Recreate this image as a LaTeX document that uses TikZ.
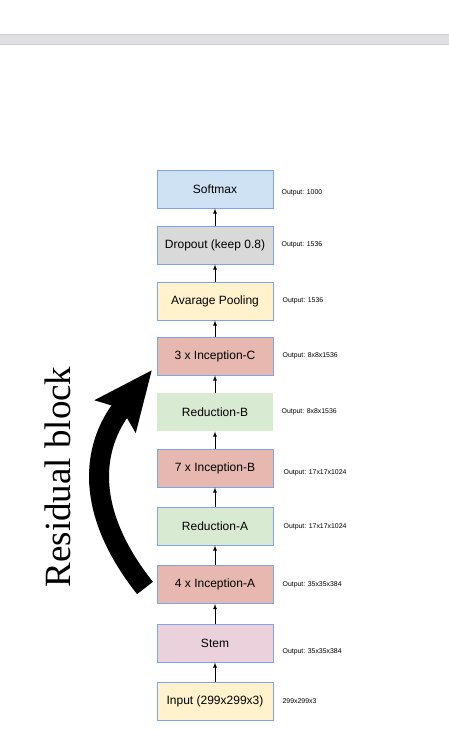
\documentclass[tikz,border=0pt]{standalone}
\usepackage{fontspec}
\setmainfont{Liberation Sans}
\newfontfamily\resfont{Liberation Serif}
\usetikzlibrary{arrows, arrows.meta, positioning}

\definecolor{barfill}{RGB}{224,224,226}
\definecolor{baredge}{RGB}{206,206,208}
\definecolor{boxline}{RGB}{125,165,232}
\definecolor{softblue}{RGB}{207,226,243}
\definecolor{softgray}{RGB}{217,217,217}
\definecolor{softyellow}{RGB}{255,242,204}
\definecolor{softred}{RGB}{230,184,175}
\definecolor{softgreen}{RGB}{217,234,211}
\definecolor{softpink}{RGB}{234,209,220}

\tikzset{
  layer/.style={draw=boxline, line width=0.9pt, minimum width=116pt,
    minimum height=38pt, inner sep=0pt, font=\fontsize{12}{14}\selectfont},
  outlabel/.style={inner sep=0pt, anchor=west, font=\fontsize{6.9}{8}\selectfont},
  flow/.style={->, line width=0.8pt}
}

\begin{document}
\begin{tikzpicture}[>=latex, x=1pt, y=-1pt]
    \useasboundingbox (0,0) rectangle (449,730);

    % top bar
    \fill[barfill] (0,34) rectangle (449,45);
    \draw[baredge, line width=0.8pt] (0,34.4) -- (449,34.4);
    \draw[baredge, line width=0.8pt] (0,44.6) -- (449,44.6);

    \node[layer, fill=softblue] (softmax) at (215,189) {Softmax};
    \node[layer, fill=softgray] (dropout) at (215,245) {Dropout (keep 0.8)};
    \node[layer, fill=softyellow] (pooling) at (215,301) {Avarage Pooling};
    \node[layer, fill=softred] (inc-c) at (215,356) {3 x Inception-C};
    \node[layer, fill=softgreen, draw=none] (red-b) at (215,412) {Reduction-B};
    \node[layer, fill=softred] (inc-b) at (215,468) {7 x Inception-B};
    \node[layer, fill=softgreen] (red-a) at (215,526) {Reduction-A};
    \node[layer, fill=softred] (inc-a) at (215,584.5) {4 x Inception-A};
    \node[layer, fill=softpink] (stem) at (215,643) {Stem};
    \node[layer, fill=softyellow] (input) at (215,701) {Input (299x299x3)};

    \node[outlabel, right = 8pt of softmax, yshift=-4pt] {Output: 1000};
    \node[outlabel, right = 8pt of dropout] {Output: 1536};
    \node[outlabel, right = 9pt of pooling] {Output: 1536};
    \node[outlabel, right = 9pt of inc-c] {Output: 8x8x1536};
    \node[outlabel, right = 8pt of red-b] {Output: 8x8x1536};
    \node[outlabel, right = 10pt of inc-b, yshift=-5pt] {Output: 17x17x1024};
    \node[outlabel, right = 10pt of red-a, yshift=-1pt] {Output: 17x17x1024};
    \node[outlabel, right = 9pt of inc-a] {Output: 35x35x384};
    \node[outlabel, right = 9pt of stem, yshift=-9pt] {Output: 35x35x384};
    \node[outlabel, right = 9pt of input] {299x299x3};

    \draw[flow] (input) -- (stem);
    \draw[flow] (stem) -- (inc-a);
    \draw[flow] (inc-a) -- (red-a);
    \draw[flow] (red-a) -- (inc-b);
    \draw[flow] (inc-b) -- (red-b);
    \draw[flow] (red-b) -- (inc-c);
    \draw[flow] (inc-c) -- (pooling);
    \draw[flow] (pooling) -- (dropout);
    \draw[flow] (dropout) -- (softmax);

    % residual arrow
    \path (145,588) coordinate (res-start);
    \path (152,370) coordinate (res-end);
    \draw[line width=20pt, -{Stealth[length=58pt, width=50pt, inset=9pt]}]
      (res-start) .. controls (84,511) and (91,447) .. (res-end);
    \node[rotate=90, inner sep=0pt, font=\resfont\fontsize{37}{40}\selectfont]
      (residual) at (57.5,477) {Residual block};
\end{tikzpicture}
\end{document}
